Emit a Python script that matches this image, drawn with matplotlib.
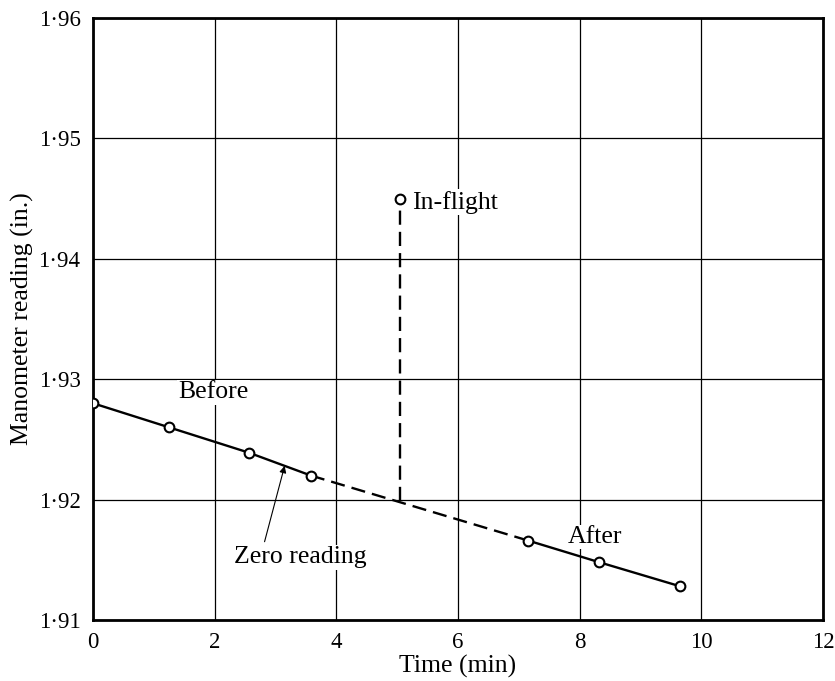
import matplotlib
matplotlib.use('Agg')
import matplotlib.pyplot as plt
from matplotlib.ticker import FuncFormatter

# lectura del manometro
t_antes = [0.0, 1.25, 2.56, 3.58]
m_antes = [1.928, 1.926, 1.9239, 1.922]
t_despues = [7.15, 8.32, 9.65]
m_despues = [1.9166, 1.9148, 1.9128]
t_vuelo = 5.05
m_cero_vuelo = 1.9199
m_vuelo = 1.945

x_ticks = [0, 2, 4, 6, 8, 10, 12]
y_ticks = [1.91, 1.92, 1.93, 1.94, 1.95, 1.96]

plt.rcParams['font.family'] = ['Liberation Serif', 'DejaVu Serif']

fig = plt.figure(figsize=(8.35, 6.81), dpi=100)
ax = fig.add_axes([0.1114, 0.0896, 0.8742, 0.884])

ax.set_xlim(0, 12)
ax.set_ylim(1.91, 1.96)
ax.set_xticks(x_ticks)
ax.set_yticks(y_ticks)
ax.yaxis.set_major_formatter(FuncFormatter(lambda v, p: ('%.2f' % v).replace('.', '·')))
ax.tick_params(length=0, labelsize=16.5, pad=9)
ax.grid(True, color='black', linewidth=0.9)
ax.set_axisbelow(True)
for s in ax.spines.values():
    s.set_linewidth(2)

lw = 1.7
# lineas continuas
ax.plot(t_antes, m_antes, color='black', lw=lw, zorder=3)
ax.plot(t_despues, m_despues, color='black', lw=lw, zorder=3)
# tramo interpolado
ax.plot([t_antes[-1], t_despues[0]], [m_antes[-1], m_despues[0]], color='black',
        lw=lw, dashes=(6, 3), zorder=3)
ax.plot([t_vuelo, t_vuelo], [m_cero_vuelo, m_vuelo], color='black',
        lw=lw, dashes=(6, 3), zorder=3)

mk = dict(marker='o', ms=7, mfc='white', mec='black', mew=1.5, ls='none', zorder=4)
ax.plot(t_antes, m_antes, **mk)
ax.plot(t_despues, m_despues, **mk)
ax.plot([t_vuelo], [m_vuelo], **mk)

caja = dict(facecolor='white', edgecolor='none', pad=1)
fs = 18.5
ax.text(1.98, 1.9289, 'Before', fontsize=fs, ha='center', va='center', bbox=caja, zorder=2)
ax.text(8.26, 1.9169, 'After', fontsize=fs, ha='center', va='center', bbox=caja, zorder=2)
ax.text(5.25, 1.9447, 'In-flight', fontsize=fs, ha='left', va='center', bbox=caja, zorder=2)
ax.text(3.4, 1.9152, 'Zero reading', fontsize=fs, ha='center', va='center', bbox=caja, zorder=2)
ax.annotate('', xy=(3.15, 1.9228), xytext=(2.82, 1.9165),
            arrowprops=dict(arrowstyle='-|>', color='black', lw=0.8,
                            mutation_scale=10, shrinkA=0, shrinkB=0))

ax.set_xlabel('Time (min)', fontsize=fs, labelpad=1)
ax.set_ylabel('Manometer reading (in.)', fontsize=fs, labelpad=3)

fig.savefig('out.png', dpi=100)
